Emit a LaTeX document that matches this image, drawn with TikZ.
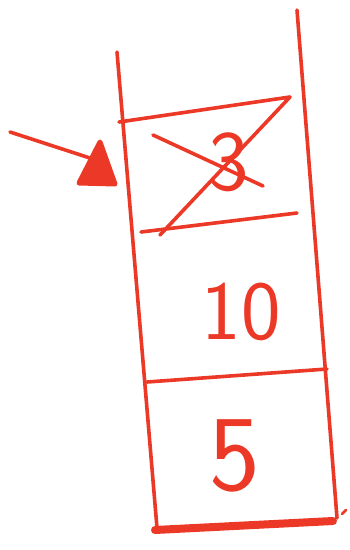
\documentclass[tikz,border=0pt]{standalone}
\usepackage{tikz}
\usetikzlibrary{arrows.meta, calc}
\definecolor{marker}{RGB}{236, 56, 38}

\begin{document}
\begin{tikzpicture}[x=1pt, y=-1pt, line cap=round, line join=round]
        \useasboundingbox (0,0) rectangle (350,550);
        \tikzset{pen/.style={draw=marker, line width=3.6pt},
                 digit/.style={text=marker, font=\sffamily\fontsize{84}{84}\selectfont, inner sep=0pt}}

        % walls of the stack
        \coordinate (lt) at (117,52);  \coordinate (lb) at (157,528);
        \coordinate (rt) at (297,10);  \coordinate (rb) at (337,518);
        \draw[pen] (lt) -- (lb);
        \draw[pen] (rt) -- (rb);

        % cells
        \draw[pen] (147,382) -- (327,369);
        \draw[marker, line width=8pt] (155,530) -- (333,521);
        \draw[pen, line width=2.5pt] (342,514) -- (346,510);

        \node[digit] (ten)  at (241,312) {10};
        \node[digit, font=\sffamily\fontsize{108}{108}\selectfont] (five) at (235,456) {5};
        \node[digit, font=\sffamily\fontsize{86}{86}\selectfont] (old) at (229,162) {3};

        % popped element, crossed out
        \draw[pen] (153,135) -- (263,186);
        \draw[pen] (119,122) -- (290,97) -- (160,235);
        \draw[pen] (141,232) -- (297,213);

        % top pointer
        \coordinate (tail) at (10,132);
        \coordinate (tip) at (96,160);
        \draw[pen] (tail) -- (tip);
        \filldraw[marker, line width=5pt] (100,142) -- (79,183) -- (115,184) -- cycle;
    \end{tikzpicture}
\end{document}
